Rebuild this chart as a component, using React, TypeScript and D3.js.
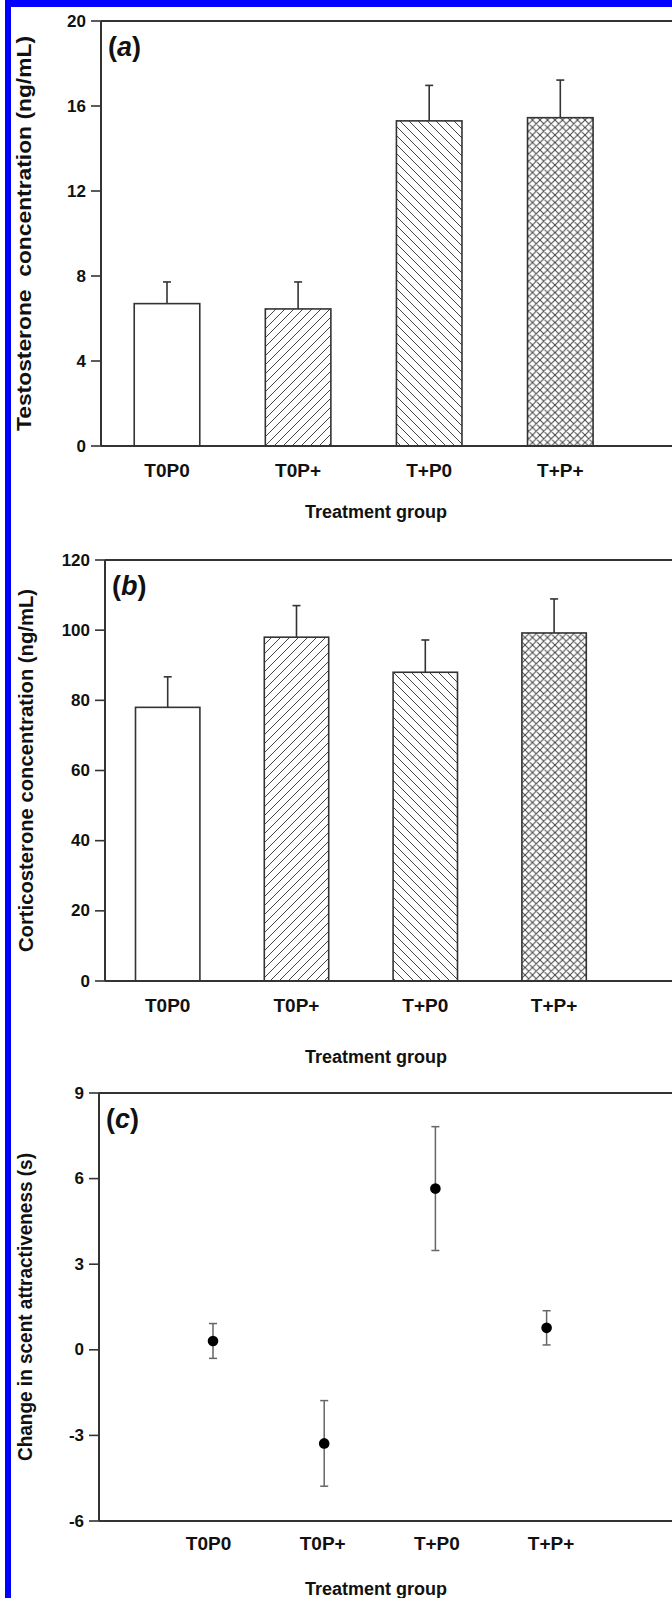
import React from "react";
import * as d3 from "d3";

const groups = ["T0P0", "T0P+", "T+P0", "T+P+"];

const testosterone = [6.7, 6.45, 15.3, 15.45];
const testosteroneSE = [1.02, 1.27, 1.67, 1.77];
const testosteroneTicks = [0, 4, 8, 12, 16, 20];

const corticosterone = [78, 98, 88, 99.2];
const corticosteroneSE = [8.7, 9.0, 9.2, 9.7];
const corticosteroneTicks = [0, 20, 40, 60, 80, 100, 120];

const scentChange = [0.31, -3.28, 5.65, 0.77];
const scentSE = [0.61, 1.5, 2.17, 0.6];
const scentTicks = [-6, -3, 0, 3, 6, 9];

const xTitle = "Treatment group";
const yTitleA = "Testosterone  concentration (ng/mL)";
const yTitleB = "Corticosterone concentration (ng/mL)";
const yTitleC = "Change in scent attractiveness (s)";

const W = 672;
const H = 1598;
const FONT = "'Liberation Sans', Arial, Helvetica, sans-serif";
const LINE = "#333";
const TEXT = "#111";
const fills = ["#fff", "url(#hFwd)", "url(#hBack)", "url(#hCross)"];

type AxisProps = {
  y: d3.ScaleLinear<number, number>;
  ticks: number[];
  left: number;
  top: number;
  bottom: number;
  title: string;
  titleX: number;
  titleLen: number;
  panel: string;
  labelBaseline: number;
  titleBaseline: number;
  x: d3.ScalePoint<string>;
};

function Frame(p: AxisProps) {
  const midY = (p.top + p.bottom) / 2;
  return (
    <g>
      <line x1={p.left} x2={W + 5} y1={p.top} y2={p.top} stroke={LINE} strokeWidth={2} />
      <line x1={p.left} x2={W + 5} y1={p.bottom} y2={p.bottom} stroke={LINE} strokeWidth={2} />
      <line x1={p.left} x2={p.left} y1={p.top} y2={p.bottom} stroke={LINE} strokeWidth={2} />
      {p.ticks.map((t) => (
        <g key={t}>
          <line x1={p.left - 10} x2={p.left} y1={p.y(t)} y2={p.y(t)} stroke={LINE} strokeWidth={1.6} />
          <text
            x={p.left - 15}
            y={p.y(t)}
            textAnchor="end"
            dominantBaseline="central"
            fontFamily={FONT}
            fontWeight="bold"
            fontSize={17}
            fill={TEXT}
          >
            {t}
          </text>
        </g>
      ))}
      {groups.map((g) => (
        <text
          key={g}
          x={p.x(g)}
          y={p.labelBaseline}
          textAnchor="middle"
          fontFamily={FONT}
          fontWeight="bold"
          fontSize={19}
          fill={TEXT}
        >
          {g}
        </text>
      ))}
      <text
        x={376}
        y={p.titleBaseline}
        textAnchor="middle"
        fontFamily={FONT}
        fontWeight="bold"
        fontSize={18}
        fill={TEXT}
      >
        {xTitle}
      </text>
      <text
        transform={`translate(${p.titleX},${midY}) rotate(-90)`}
        textAnchor="middle"
        fontFamily={FONT}
        fontWeight="bold"
        fontSize={20}
        fill={TEXT}
        textLength={p.titleLen}
        lengthAdjust="spacingAndGlyphs"
        style={{ whiteSpace: "pre" }}
      >
        {p.title}
      </text>
      <text
        x={p.left + 7}
        y={p.top + 35}
        fontFamily={FONT}
        fontWeight="bold"
        fontSize={27}
        fill={TEXT}
      >
        (<tspan fontStyle="italic">{p.panel}</tspan>)
      </text>
    </g>
  );
}

function BarPanel(props: {
  values: number[];
  se: number[];
  ticks: number[];
  left: number;
  top: number;
  bottom: number;
  rangeL: number;
  rangeR: number;
  title: string;
  titleX: number;
  titleLen: number;
  panel: string;
  labelBaseline: number;
  titleBaseline: number;
}) {
  const y = d3
    .scaleLinear()
    .domain([props.ticks[0], props.ticks[props.ticks.length - 1]])
    .range([props.bottom, props.top]);
  const x = d3.scalePoint<string>().domain(groups).range([props.rangeL, props.rangeR]).padding(0.5);
  const bw = x.step() * 0.5;
  return (
    <g>
      {groups.map((g, i) => {
        const cx = x(g)!;
        const top = y(props.values[i]);
        const capY = y(props.values[i] + props.se[i]);
        return (
          <g key={g}>
            <line x1={cx} x2={cx} y1={top} y2={capY} stroke={LINE} strokeWidth={1.6} />
            <line x1={cx - 4} x2={cx + 4} y1={capY} y2={capY} stroke={LINE} strokeWidth={1.6} />
            <rect
              x={cx - bw / 2}
              y={top}
              width={bw}
              height={props.bottom - top}
              fill={fills[i]}
              stroke={LINE}
              strokeWidth={1.6}
            />
          </g>
        );
      })}
      <Frame
        y={y}
        x={x}
        ticks={props.ticks}
        left={props.left}
        top={props.top}
        bottom={props.bottom}
        title={props.title}
        titleX={props.titleX}
        titleLen={props.titleLen}
        panel={props.panel}
        labelBaseline={props.labelBaseline}
        titleBaseline={props.titleBaseline}
      />
    </g>
  );
}

function PointPanel() {
  const left = 99;
  const top = 1093;
  const bottom = 1521;
  const y = d3
    .scaleLinear()
    .domain([scentTicks[0], scentTicks[scentTicks.length - 1]])
    .range([bottom, top]);
  const x = d3.scalePoint<string>().domain(groups).range([101.8, 657.8]).padding(1);
  const xLabel = d3.scalePoint<string>().domain(groups).range([94.3, 665.3]).padding(1);
  return (
    <g>
      {groups.map((g, i) => {
        const cx = x(g)!;
        const hi = y(scentChange[i] + scentSE[i]);
        const lo = y(scentChange[i] - scentSE[i]);
        return (
          <g key={g}>
            <line x1={cx} x2={cx} y1={hi} y2={lo} stroke="#666" strokeWidth={1.5} />
            <line x1={cx - 4} x2={cx + 4} y1={hi} y2={hi} stroke="#666" strokeWidth={1.5} />
            <line x1={cx - 4} x2={cx + 4} y1={lo} y2={lo} stroke="#666" strokeWidth={1.5} />
            <circle cx={cx} cy={y(scentChange[i])} r={5.3} fill="#000" />
          </g>
        );
      })}
      <Frame
        y={y}
        x={xLabel}
        ticks={scentTicks}
        left={left}
        top={top}
        bottom={bottom}
        title={yTitleC}
        titleX={32}
        titleLen={308}
        panel="c"
        labelBaseline={1550}
        titleBaseline={1595}
      />
    </g>
  );
}

export default function App() {
  return (
    <div style={{ position: "absolute", left: 0, top: 0, width: W, height: H, overflow: "hidden", background: "#fff" }}>
      <svg width={W} height={H} viewBox={`0 0 ${W} ${H}`} style={{ display: "block" }}>
        <defs>
          <pattern id="hFwd" patternUnits="userSpaceOnUse" width={9} height={9}>
            <path d="M0,9 L9,0 M-2,2 L2,-2 M7,11 L11,7" stroke="#444" strokeWidth={1} />
          </pattern>
          <pattern id="hBack" patternUnits="userSpaceOnUse" width={9} height={9}>
            <path d="M0,0 L9,9 M-2,7 L2,11 M7,-2 L11,2" stroke="#444" strokeWidth={1} />
          </pattern>
          <pattern id="hCross" patternUnits="userSpaceOnUse" width={7.5} height={7.5}>
            <path
              d="M0,7.5 L7.5,0 M-2,2 L2,-2 M5.5,9.5 L9.5,5.5 M0,0 L7.5,7.5 M-2,5.5 L2,9.5 M5.5,-2 L9.5,2"
              stroke="#444"
              strokeWidth={1}
            />
          </pattern>
        </defs>
        <rect x={0} y={0} width={W} height={H} fill="#fff" />
        <BarPanel
          values={testosterone}
          se={testosteroneSE}
          ticks={testosteroneTicks}
          left={101}
          top={21}
          bottom={446}
          rangeL={101.45}
          rangeR={625.85}
          title={yTitleA}
          titleX={31}
          titleLen={395}
          panel="a"
          labelBaseline={477}
          titleBaseline={518}
        />
        <BarPanel
          values={corticosterone}
          se={corticosteroneSE}
          ticks={corticosteroneTicks}
          left={105}
          top={560}
          bottom={981}
          rangeL={103.3}
          rangeR={618.5}
          title={yTitleB}
          titleX={33}
          titleLen={363}
          panel="b"
          labelBaseline={1012}
          titleBaseline={1063}
        />
        <PointPanel />
        <rect x={5} y={0} width={6} height={H} fill="#0000ff" />
        <rect x={5} y={0} width={W - 5} height={7} fill="#0000ff" />
      </svg>
    </div>
  );
}
